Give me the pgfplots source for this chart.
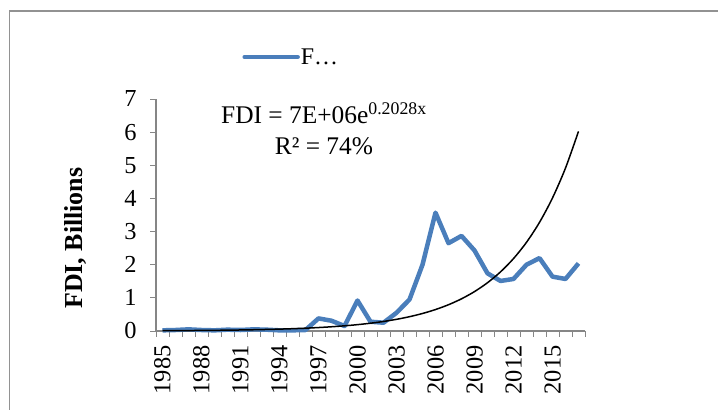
\documentclass[border=0pt]{standalone}
\usepackage{pgfplots}
\pgfplotsset{compat=1.18}
\usepackage{fontspec}
\setmainfont{Liberation Serif}
\definecolor{fdiblue}{RGB}{74,126,187}
\definecolor{axgray}{RGB}{134,134,134}
\begin{document}
\begin{tikzpicture}
\useasboundingbox (0,0) rectangle (718bp,410bp);
\draw[axgray!90, line width=1.2bp] (9.5bp,399bp) rectangle (740bp,-20bp);
\begin{axis}[
 at={(156bp,79bp)}, anchor=south west,
 scale only axis, width=429bp, height=232bp,
 xmin=0.5, xmax=33.5, ymin=0, ymax=7,
 axis x line*=bottom, axis y line*=left,
 axis line style={axgray, line width=1.2bp, -},
 every tick/.style={axgray, line width=1bp},
 tick align=outside, major tick length=6bp,
 xtick={0.5,1.5,...,33.5}, xticklabels={},
 extra x ticks={1,4,...,31},
 extra x tick labels={1985,1988,1991,1994,1997,2000,2003,2006,2009,2012,2015},
 extra x tick style={major tick length=0pt,
   xticklabel style={font=\fontsize{24.5}{27}\selectfont, yshift=-11bp, rotate=90, anchor=east}},
 ytick={0,...,7},
 /pgf/number format/assume math mode=true,
 every tick label/.append style={font=\fontsize{24.5}{27}\selectfont},
 yticklabel style={font=\fontsize{24.5}{27}\selectfont, xshift=-10bp},
 ylabel={\textbf{FDI, Billions}},
 ylabel style={at={(axis description cs:-0.1865,0.40)}, anchor=center, font=\fontsize{26}{30}\selectfont},
 legend style={at={(axis description cs:0.201,1.181)}, anchor=west, draw=none, fill=none, inner sep=0pt,
   font=\fontsize{24}{28}\selectfont, nodes={inner sep=1bp}},
 legend image code/.code={\draw[#1, line cap=round] (0bp,0bp) -- (53bp,0bp);},
 clip=false,
]
\addplot[fdiblue, line width=4.5bp, line join=round] coordinates {
(1,0.02) (2,0.03) (3,0.05) (4,0.03) (5,0.02) (6,0.04) (7,0.03) (8,0.05) (9,0.04) (10,0.02)
(11,0.02) (12,0.03) (13,0.38) (14,0.31) (15,0.15) (16,0.92) (17,0.28) (18,0.25) (19,0.55) (20,0.95)
(21,2.0) (22,3.57) (23,2.65) (24,2.87) (25,2.43) (26,1.74) (27,1.51) (28,1.57) (29,2.0) (30,2.2)
(31,1.64) (32,1.57) (33,2.04)
};
\addlegendentry{F…}
\addplot[black, line width=1.5bp, smooth, forget plot] coordinates {
(1,0.00915) (2,0.01121) (3,0.01373) (4,0.01682) (5,0.02060) (6,0.02523) (7,0.03090) (8,0.03785)
(9,0.04636) (10,0.05678) (11,0.06954) (12,0.08518) (13,0.10433) (14,0.12778) (15,0.15651)
(16,0.19169) (17,0.23479) (18,0.28757) (19,0.35222) (20,0.43141) (21,0.52840) (22,0.64719)
(23,0.79269) (24,0.97090) (25,1.18918) (26,1.45653) (27,1.78398) (28,2.18505) (29,2.67629)
(30,3.27799) (31,4.01488) (32,4.91743) (33,6.02299)
};
\node[anchor=base, font=\fontsize{25.5}{29}\selectfont] at (axis cs:13.42,6.25) {FDI = 7E+06e\textsuperscript{0.2028x}};
\node[anchor=base, font=\fontsize{25.5}{29}\selectfont] at (axis cs:13.42,5.32) {R² = 74\%};
\end{axis}
\end{tikzpicture}
\end{document}
